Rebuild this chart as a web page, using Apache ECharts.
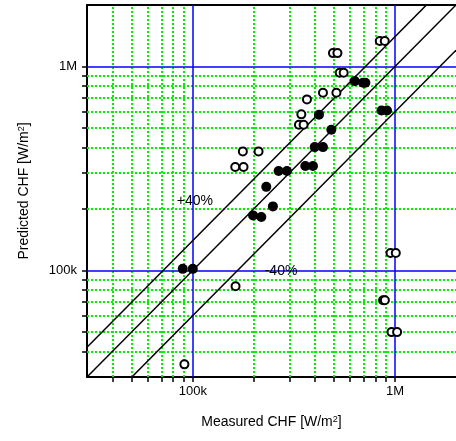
<!DOCTYPE html>
<html>
<head>
<meta charset="utf-8">
<script src="https://cdn.jsdelivr.net/npm/echarts@6/dist/echarts.min.js"></script>
<style>
  html, body { margin: 0; padding: 0; background: #fff; }
  #chart { width: 456px; height: 441px; }
</style>
</head>
<body>
<div id="chart"></div>
<script>
// CHF comparison, values in W/m2
const openMeasured = [176800, 211400, 162100, 178200, 840000, 889000, 493000, 518700, 532400, 557000,
    440000, 512800, 366700, 344000, 334800, 353000, 162700, 90900, 949000, 1008000,
    872000, 890000, 960000, 1023000];
const openPredicted = [383000, 383000, 321000, 321000, 1331000, 1331000, 1162000, 1162000, 931000, 931000,
    743000, 743000, 689000, 582000, 518000, 518000, 83500, 34600, 121600, 121600,
    71300, 71300, 49800, 49800];

const filledMeasured = [631700, 694400, 713000, 420500, 856500, 912000, 484000, 400500, 440000, 360000,
    392700, 265600, 292000, 230800, 248900, 198600, 218100, 89200, 100000];
const filledPredicted = [847000, 832000, 832000, 580000, 608000, 608000, 489500, 402000, 402000, 324500,
    324500, 306800, 306800, 256700, 205900, 186000, 182500, 101700, 101700];

const majorTicks = [100000, 1000000];
const majorLabels = ['100k', '1M'];
const minorTicks = [40000, 50000, 60000, 70000, 80000, 90000,
    200000, 300000, 400000, 500000, 600000, 700000, 800000, 900000];
const axisMin = 30000;
const axisMax = 2000000;

// reference lines: predicted = ratio * measured
const bandRatios = [1.4, 1, 0.6];
const bandNames = ['+40%', 'ideal', '-40%'];

const chart = echarts.init(document.getElementById('chart'));

const FONT = "'Liberation Sans', Arial, sans-serif";
const allTicks = [...minorTicks, ...majorTicks].sort((a, b) => a - b);

function tickLabel(v) {
    const i = majorTicks.indexOf(v);
    return i >= 0 ? majorLabels[i] : '';
}

function toPairs(xs, ys) {
    return xs.map((x, i) => [x, ys[i]]);
}

const minorStyle = { color: '#00f000', width: 2, type: [2, 2] };
const majorStyle = { color: '#0000ff', width: 1.5, type: 'solid' };
const gridLines = [
    ...minorTicks.map(v => ({ xAxis: v, lineStyle: minorStyle })),
    ...minorTicks.map(v => ({ yAxis: v, lineStyle: minorStyle })),
    ...majorTicks.map(v => ({ xAxis: v, lineStyle: majorStyle })),
    ...majorTicks.map(v => ({ yAxis: v, lineStyle: majorStyle }))
];

const bandSeries = bandRatios.map((r, i) => ({
    name: bandNames[i],
    type: 'line',
    z: 6,
    symbol: 'none',
    clip: true,
    silent: true,
    lineStyle: { color: '#000', width: 1.5 },
    data: [[axisMin, axisMin * r], [axisMax, axisMax * r]]
}));

const axisCommon = {
    type: 'log',
    logBase: 10,
    min: axisMin,
    max: axisMax,
    axisLine: { show: true, onZero: false, lineStyle: { color: '#000', width: 2 } },
    axisTick: { show: true, customValues: allTicks, length: 5, inside: false, lineStyle: { color: '#000', width: 1.5 } },
    axisLabel: {
        customValues: majorTicks,
        formatter: tickLabel,
        color: '#000',
        fontFamily: FONT,
        fontSize: 13
    },
    splitLine: { show: false },
    minorTick: { show: false },
    minorSplitLine: { show: false },
    nameLocation: 'middle',
    nameTextStyle: {
        color: '#000',
        fontFamily: FONT,
        fontSize: 14,
        rich: {
            sup: { fontSize: 9, fontFamily: FONT, color: '#000', verticalAlign: 'top', padding: [0, 0, 6, 0] }
        }
    }
};

const option = {
    animation: false,
    backgroundColor: '#fff',
    grid: { left: 87, right: 0, top: 5, bottom: 64, containLabel: false },
    xAxis: [
        {
            ...axisCommon,
            name: 'Measured CHF [W/m{sup|2}]',
            nameGap: 38,
            axisLabel: { ...axisCommon.axisLabel, margin: 8 }
        },
        {
            type: 'log',
            position: 'top',
            min: axisMin,
            max: axisMax,
            axisLine: { show: true, lineStyle: { color: '#000', width: 2 } },
            axisTick: { show: false },
            axisLabel: { show: false },
            splitLine: { show: false }
        }
    ],
    yAxis: {
        ...axisCommon,
        name: 'Predicted CHF [W/m{sup|2}]',
        nameGap: 55,
        axisLabel: { ...axisCommon.axisLabel, margin: 10 }
    },
    series: [
        {
            name: 'grid',
            type: 'line',
            z: 1,
            data: [],
            silent: true,
            markLine: {
                z: 1,
                silent: true,
                symbol: 'none',
                label: { show: false },
                emphasis: { disabled: true },
                animation: false,
                data: gridLines
            }
        },
        ...bandSeries,
        {
            name: 'labels',
            type: 'scatter',
            z: 12,
            data: [],
            markPoint: {
                z: 12,
                symbolSize: 0,
                silent: true,
                label: {
                    show: true,
                    position: 'inside',
                    color: '#000',
                    fontFamily: FONT,
                    fontSize: 14,
                    formatter: p => p.name
                },
                data: [
                    { name: bandNames[0], coord: [102500, 219000] },
                    { name: bandNames[2], coord: [273000, 99500] }
                ]
            }
        },
        {
            name: 'open',
            type: 'scatter',
            z: 10,
            symbol: 'circle',
            symbolSize: 8,
            itemStyle: { color: '#fff', borderColor: '#000', borderWidth: 2, opacity: 1 },
            data: toPairs(openMeasured, openPredicted)
        },
        {
            name: 'filled',
            type: 'scatter',
            z: 10,
            symbol: 'circle',
            symbolSize: 10,
            itemStyle: { color: '#000', opacity: 1 },
            data: toPairs(filledMeasured, filledPredicted)
        }
    ]
};

chart.setOption(option);
</script>
</body>
</html>
